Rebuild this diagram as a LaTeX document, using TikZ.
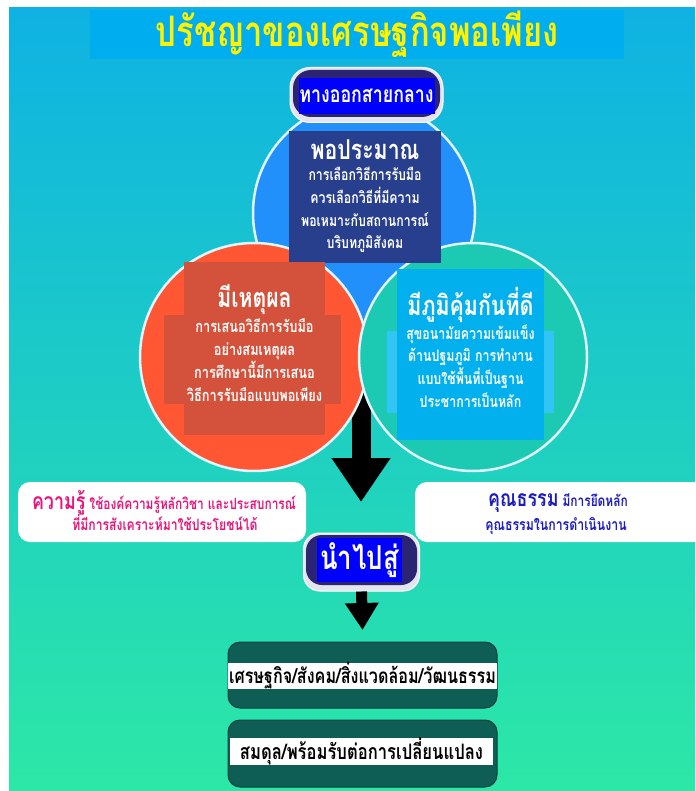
\documentclass[tikz,border=0pt]{standalone}
\usepackage{fontspec}
\newfontfamily\thai[Script=Thai,FakeStretch=0.78]{Loma}
\usetikzlibrary{arrows.meta}
\definecolor{bgtop}{HTML}{0FB2E3}
\definecolor{bgmid}{HTML}{1ACDC6}
\definecolor{bgbot}{HTML}{2CE8A6}
\definecolor{titlebar}{HTML}{00AEEF}
\definecolor{pillblue}{HTML}{0000FF}
\definecolor{pilldark}{HTML}{2B2473}
\definecolor{pillrim}{HTML}{E4E4EE}
\definecolor{cblue}{HTML}{2190FA}
\definecolor{cred}{HTML}{FF5733}
\definecolor{cgreen}{HTML}{1CCAB4}
\definecolor{navybox}{HTML}{283F8E}
\definecolor{redbox}{HTML}{D4513B}
\definecolor{cyanbox}{HTML}{02B0EE}
\definecolor{cyanwide}{HTML}{32C4F4}
\definecolor{pinktext}{HTML}{E8147C}
\definecolor{bluetext}{HTML}{1C1CC0}
\definecolor{tealbox}{HTML}{0E5E56}
\begin{document}
\begin{tikzpicture}[x=1pt,y=-1pt,
  bigcircle/.style={circle, minimum size=#1, inner sep=0, draw=white!88!cyan, line width=2.5pt},
  flatbox/.style={rectangle, inner sep=0},
  boxtext/.style={font=\thai\bfseries, text=white, align=center, inner sep=0},
  pillrimstyle/.style={rectangle, rounded corners=#1, fill=pillrim, draw=white, line width=1pt, inner sep=0},
  pilldarkstyle/.style={rectangle, rounded corners=#1, fill=pilldark, inner sep=0},
  whitebox/.style={rectangle, rounded corners=12pt, fill=white, inner sep=0},
  tealstyle/.style={rectangle, rounded corners=12pt, fill=tealbox, draw=tealbox!70!black, line width=1pt, inner sep=0},
  strip/.style={rectangle, fill=white, inner sep=0, text=black}
]
\useasboundingbox (0,0) rectangle (695,791);
\fill[white] (0,0) rectangle (695,791);
\shade[top color=bgtop, middle color=bgmid, bottom color=bgbot] (9,8) rectangle (695,791);

% title
\node[flatbox, fill=titlebar, minimum width=534pt, minimum height=49pt,
      font=\thai\bfseries\fontsize{42}{46}\selectfont, text=yellow] (title) at (357,34.5) {ปรัชญาของเศรษฐกิจพอเพียง};

% big arrow (behind circles)
\coordinate (a1s) at (361,330);
\coordinate (a1e) at (361,502);
\draw[line width=19pt, -{Triangle[width=56pt,length=44pt]}] (a1s) -- (a1e);

% circles
\node[bigcircle=222pt, fill=cblue] (ctop) at (364,213) {};
\node[bigcircle=228pt, fill=cred] (cleft) at (254,357) {};
\node[bigcircle=228pt, fill=cgreen] (cright) at (473,357) {};

% pill 1
\node[pillrimstyle=20pt, minimum width=153pt, minimum height=55pt] (p1rim) at (366.5,95) {};
\node[pilldarkstyle=18pt, minimum width=147pt, minimum height=47pt] (p1dark) at (366.5,93.5) {};
\node[flatbox, fill=pillblue, minimum width=136pt, minimum height=36pt,
      font=\thai\bfseries\fontsize{22.8}{26}\selectfont, text=white] (p1) at (366.5,96) {ทางออกสายกลาง};

% navy box
\node[flatbox, fill=navybox, minimum width=152pt, minimum height=132pt] (navy) at (365,197) {};
\node[boxtext, font=\thai\bfseries\fontsize{27.3}{30}\selectfont] (navyt) at (365,150) {พอประมาณ};
\node[boxtext, font=\thai\bfseries\fontsize{15.8}{22.7}\selectfont] (navyb) at (365,210)
  {การเลือกวิธีการรับมือ\\ควรเลือกวิธีที่มีความ\\พอเหมาะกับสถานการณ์\\บริบทภูมิสังคม};

% red box
\node[flatbox, fill=redbox, minimum width=141pt, minimum height=173pt] (redn) at (254.5,348.5) {};
\node[flatbox, fill=redbox, minimum width=177pt, minimum height=89pt] (redw) at (252.5,359.5) {};
\node[boxtext, font=\thai\bfseries\fontsize{27.2}{30}\selectfont] (redt) at (254.5,300) {มีเหตุผล};
\node[boxtext, font=\thai\bfseries\fontsize{16.4}{23}\selectfont] (redb) at (254.5,360.5)
  {การเสนอวิธีการรับมือ\\อย่างสมเหตุผล\\การศึกษานี้มีการเสนอ\\วิธีการรับมือแบบพอเพียง};

% cyan box
\node[flatbox, fill=cyanbox, minimum width=147pt, minimum height=171pt] (cyann) at (470.5,354.5) {};
\node[flatbox, fill=cyanwide, minimum width=167pt, minimum height=82pt] (cyanw) at (470.5,372) {};
\node[flatbox, fill=cyanbox, minimum width=147pt, minimum height=82pt] (cyanm) at (470.5,372) {};
\node[boxtext, font=\thai\bfseries\fontsize{27.4}{30}\selectfont] (cyant) at (470.5,305) {มีภูมิคุ้มกันที่ดี};
\node[boxtext, font=\thai\bfseries\fontsize{15.9}{22.7}\selectfont] (cyanb) at (470.5,366)
  {สุขอนามัยความเข้มแข็ง\\ด้านปฐมภูมิ การทำงาน\\แบบใช้พื้นที่เป็นฐาน\\ประชาการเป็นหลัก};

% knowledge / virtue boxes
\node[whitebox, minimum width=288pt, minimum height=60pt] (know) at (162,512) {};
\node[inner sep=0, text=pinktext, font=\thai\bfseries\fontsize{15.3}{18}\selectfont] (knowt1) at (164,503)
  {{\fontsize{22.9}{26}\selectfont ความรู้} ใช้องค์ความรู้หลักวิชา และประสบการณ์};
\node[inner sep=0, text=pinktext, font=\thai\bfseries\fontsize{15.6}{18}\selectfont] (knowt2) at (165,523)
  {ที่มีการสังเคราะห์มาใช้ประโยชน์ได้};
\node[whitebox, minimum width=290pt, minimum height=60pt] (virt) at (560,512) {};
\node[inner sep=0, text=bluetext, font=\thai\bfseries\fontsize{15.3}{18}\selectfont] (virtt1) at (558,503)
  {{\fontsize{22.9}{26}\selectfont คุณธรรม} มีการยึดหลัก};
\node[inner sep=0, text=bluetext, font=\thai\bfseries\fontsize{15.8}{18}\selectfont] (virtt2) at (556,526)
  {คุณธรรมในการดำเนินงาน};

% pill 2
\node[pillrimstyle=16pt, minimum width=116pt, minimum height=58pt] (p2rim) at (361.5,562) {};
\node[pilldarkstyle=16pt, minimum width=111pt, minimum height=50pt] (p2dark) at (361.5,560) {};
\node[flatbox, fill=pillblue, minimum width=85pt, minimum height=44pt,
      font=\thai\bfseries\fontsize{33}{36}\selectfont, text=white] (p2) at (359.5,560) {นำไปสู่};

% bottom boxes
\node[tealstyle, minimum width=269pt, minimum height=66pt] (b1) at (362.5,675) {};
\node[strip, minimum width=269pt, minimum height=22pt, font=\thai\bfseries\fontsize{20.7}{24}\selectfont] (b1t) at (362.5,676) {เศรษฐกิจ/สังคม/สิ่งแวดล้อม/วัฒนธรรม};
\node[tealstyle, minimum width=269pt, minimum height=67pt] (b2) at (362.5,753.5) {};
\node[strip, minimum width=263pt, minimum height=25pt, font=\thai\bfseries\fontsize{21.3}{24}\selectfont] (b2t) at (361.5,751.5) {สมดุล/พร้อมรับต่อการเปลี่ยนแปลง};

% small arrow
\coordinate (a2e) at (362.5,630);
\draw[line width=11pt, -{Triangle[width=32pt,length=27pt]}] (p2rim.south) -- (a2e);
\end{tikzpicture}
\end{document}
